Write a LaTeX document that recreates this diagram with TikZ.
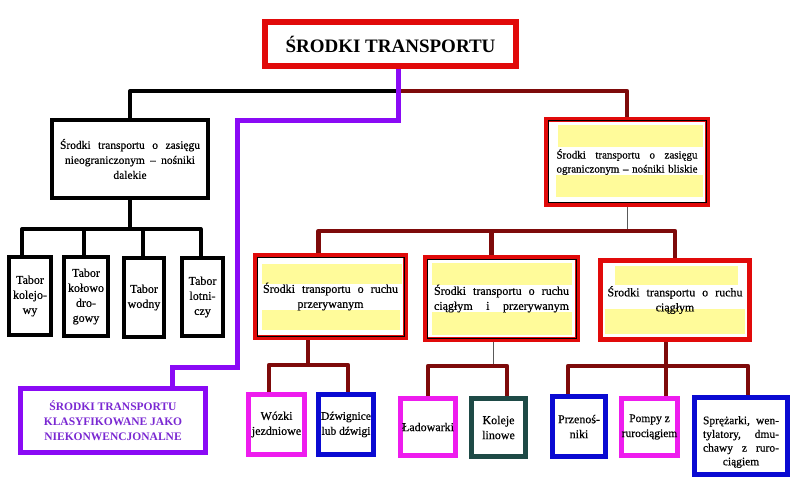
\documentclass[tikz,border=0pt]{standalone}
\usepackage{fontspec}
\setmainfont{Liberation Serif}
\newfontfamily\scanfont{Liberation Serif}[FakeBold=0.45]
\usetikzlibrary{backgrounds}
\definecolor{cred}{HTML}{E10A0A}
\definecolor{cdred}{HTML}{7E0A0A}
\definecolor{cpurp}{HTML}{8A0AF5}
\definecolor{cptext}{HTML}{7A28D2}
\definecolor{cmag}{HTML}{EE1CEE}
\definecolor{cblue}{HTML}{0A0AD2}
\definecolor{cteal}{HTML}{1E4A46}
\definecolor{cyel}{HTML}{FFFB9A}
\tikzset{
  box/.style={draw, rectangle, inner sep=0pt, align=center, text=black,
    font=\scanfont\fontsize{12}{15}\selectfont},
  blkbox/.style={box, draw=black, line width=4pt},
  redbox/.style={box, draw=cred, line width=5pt},
  magbox/.style={box, draw=cmag, line width=5pt},
  blubox/.style={box, draw=cblue, line width=4.5pt},
  tealbox/.style={box, draw=cteal, line width=5pt},
  purpbox/.style={box, draw=cpurp, line width=5pt, text=cptext,
    font=\rmfamily\fontsize{11.5}{15}\selectfont\bfseries},
  blk/.style={draw=black, line width=4pt, line join=round},
  dred/.style={draw=cdred, line width=4.5pt, line join=round},
  purp/.style={draw=cpurp, line width=5pt, line join=miter},
  thinln/.style={draw=black!65, line width=0.9pt},
  innerln/.style={draw=black, line width=1pt},
}
\newcommand{\jl}[2]{\makebox[#1][s]{#2}}
\begin{document}
\begin{tikzpicture}[x=1pt,y=-1pt]
\useasboundingbox (0,0) rectangle (799,486);
% nodes
\node[box, draw=cred, line width=6pt, minimum width=251pt, minimum height=44pt,
  font=\rmfamily\fontsize{19}{22}\selectfont\bfseries] (title) at (390.5,44) {ŚRODKI TRANSPORTU};
\node[blkbox, minimum width=156pt, minimum height=78pt, font=\scanfont\fontsize{11.5}{15}\selectfont] (far) at (130,159)
  {\jl{140pt}{Środki transportu o zasięgu}\\ \jl{130pt}{nieograniczonym – nośniki}\\dalekie};
\node[blkbox, minimum width=42pt, minimum height=78pt] (t1) at (30,296) {Tabor\\kolejo-\\wy};
\node[blkbox, minimum width=44pt, minimum height=79pt] (t2) at (86,296.5) {Tabor\\kołowo\\dro-\\gowy};
\node[blkbox, minimum width=40pt, minimum height=79pt] (t3) at (144,297.5) {Tabor\\wodny};
\node[blkbox, minimum width=41pt, minimum height=78pt] (t4) at (202.5,297) {Tabor\\lotni-\\czy};
\node[redbox, minimum width=161pt, minimum height=85pt, font=\scanfont\fontsize{11}{14}\selectfont] (near) at (627,162)
  {\jl{141pt}{Środki transportu o zasięgu}\\ \jl{141pt}{ograniczonym – nośniki bliskie}};
\node[redbox, minimum width=150pt, minimum height=82pt] (A) at (330.5,296.5)
  {\jl{135pt}{Środki transportu o ruchu}\\przerywanym};
\node[redbox, minimum width=152pt, minimum height=82pt] (B) at (501.5,298.5)
  {\jl{135pt}{Środki transportu o ruchu}\\ \jl{135pt}{ciągłym i przerywanym}};
\node[redbox, minimum width=149pt, minimum height=79pt] (C) at (675,300)
  {\jl{135pt}{Środki transportu o ruchu}\\ciągłym};
\node[purpbox, minimum width=185pt, minimum height=64pt] (nonconv) at (113,420.5)
  {ŚRODKI TRANSPORTU\\KLASYFIKOWANE JAKO\\NIEKONWENCJONALNE};
\node[magbox, minimum width=56pt, minimum height=60pt] (wozki) at (276.5,424.5) {Wózki\\jezdniowe};
\node[blubox, minimum width=55pt, minimum height=60pt, font=\scanfont\fontsize{11.5}{15}\selectfont] (dzwig) at (346,424.5) {Dźwignice\\lub dźwigi};
\node[magbox, minimum width=55pt, minimum height=57pt] (lad) at (428,427) {Ładowarki};
\node[tealbox, minimum width=54pt, minimum height=58pt] (kol) at (498.5,427.5) {Koleje\\linowe};
\node[blubox, minimum width=53pt, minimum height=60pt] (prz) at (579,426.5) {Przenoś-\\niki};
\node[magbox, minimum width=54pt, minimum height=57pt, font=\scanfont\fontsize{11.5}{15}\selectfont] (pomp) at (649.5,427) {Pompy z\\rurociągiem};
\node[blubox, minimum width=93pt, minimum height=77pt, font=\scanfont\fontsize{11.5}{13.7}\selectfont] (spr) at (741,436)
  {\raisebox{-6pt}[\height][\depth]{\begin{tabular}{@{}c@{}}\jl{76pt}{Sprężarki, wen-}\\ \jl{76pt}{tylatory, dmu-}\\ \jl{76pt}{chawy z ruro-}\\ciągiem\end{tabular}}};
% junction coordinates
\coordinate (jt) at (398,91);
\coordinate (p1) at (237,121);
\coordinate (p2) at (172,367);
\coordinate (fb) at (130,229);
\coordinate (nb) at (627,231);
\coordinate (ab) at (308,365);
\coordinate (bb) at (493,366);
\coordinate (cb) at (666,366);
% connectors
\draw[blk] (jt) -| (far.north);
\draw[dred] ([xshift=3pt]jt) -| (near.north);
\draw[purp] (title.south -| jt) -- (jt |- p1) -- (p1) -- (p1 |- p2) -- (p2) -- (nonconv.north -| p2);
\draw[blk] (far.south) -- (fb);
\draw[blk] ([xshift=-8pt]t1.north) |- (fb) -| ([xshift=-2pt]t4.north);
\draw[blk] ([xshift=-2pt]t2.north) -- ([xshift=-2pt]t2.north |- fb);
\draw[blk] ([xshift=-1pt]t3.north) -- ([xshift=-1pt]t3.north |- fb);
\draw[thinln] (near.south) -- (nb);
\draw[dred] ([xshift=-12pt]A.north) |- (nb) -| (C.north);
\draw[dred] ([xshift=-10pt]B.north) -- ([xshift=-10pt]B.north |- nb);
\draw[dred] (A.south -| ab) -- (ab);
\draw[dred] ([xshift=-7.5pt]wozki.north) |- (ab) -| ([xshift=2pt]dzwig.north);
\draw[thinln] (B.south -| bb) -- (bb);
\draw[dred] (lad.north) |- (bb) -| ([xshift=8.5pt]kol.north);
\draw[dred] (C.south -| cb) -- (pomp.north -| cb);
\draw[dred] ([xshift=-11pt]prz.north) |- (cb) -| ([xshift=7pt]spr.north);
% inner lines and highlight
\draw[innerln] ([shift={(4pt,-4pt)}]near.north west) rectangle ([shift={(-4pt,4pt)}]near.south east);
\draw[innerln] ([shift={(4pt,-4pt)}]A.north west) rectangle ([shift={(-4pt,4pt)}]A.south east);
\draw[innerln] ([shift={(4pt,-4pt)}]B.north west) rectangle ([shift={(-4pt,4pt)}]B.south east);
\begin{scope}[on background layer]
  \fill[white] (0,0) rectangle (799,486);
  \fill[cyel] (558,125) rectangle (703,147);
  \fill[cyel] (556,175) rectangle (703,197);
  \fill[cyel] (262,264) rectangle (402,284);
  \fill[cyel] (262,310) rectangle (400,330);
  \fill[cyel] (432,263) rectangle (572,285);
  \fill[cyel] (432,312) rectangle (572,335);
  \fill[cyel] (615,266) rectangle (738,285);
  \fill[cyel] (605,309) rectangle (745,334);
\end{scope}
\end{tikzpicture}
\end{document}
